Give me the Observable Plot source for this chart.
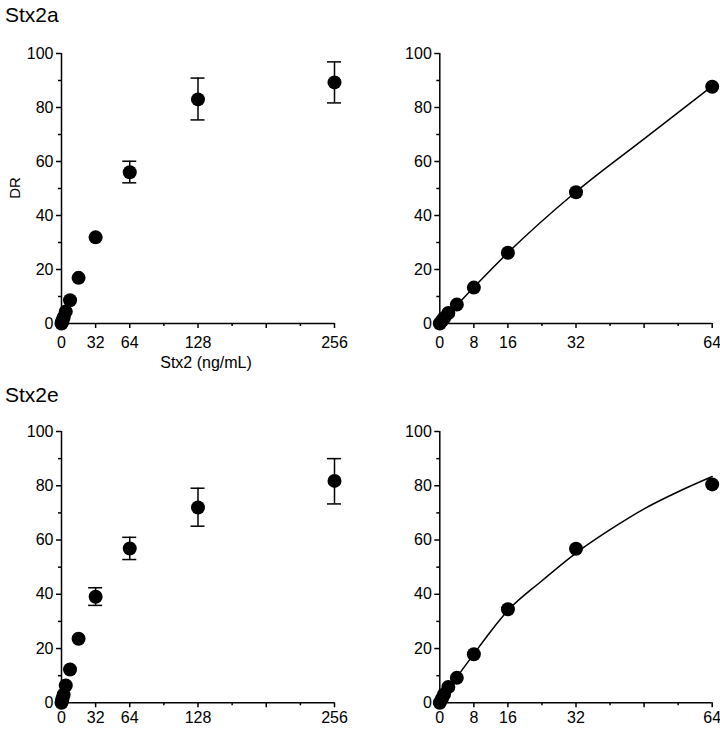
<!DOCTYPE html>
<html><head><meta charset="utf-8">
<script src="https://cdn.jsdelivr.net/npm/d3@7"></script>
<script src="https://cdn.jsdelivr.net/npm/@observablehq/plot@0.6"></script>
<style>
body{margin:0;background:#fff;}
#root{position:relative;width:720px;height:730px;font-family:"Liberation Sans",Arial,Helvetica,sans-serif;color:#000;overflow:hidden;}
#root svg{position:absolute;}
.lbl{position:absolute;white-space:nowrap;line-height:1;}
</style></head><body><div id="root"></div>
<script>
// ---- data ----
const panelTitles = ["Stx2a", "Stx2e"];
const yLabel = "DR";
const xLabel = "Stx2 (ng/mL)";

const doseFull = [0, 0.5, 1, 2, 4, 8, 16, 32, 64, 128, 256];
const doseZoom = [0, 0.5, 1, 2, 4, 8, 16, 32, 64];

const stx2aFull = [0, 0.5, 1.1, 2.2, 4.4, 8.6, 16.9, 31.9, 56.0, 83.0, 89.3];
const stx2aFullLo = [null, null, null, null, null, null, null, null, 52.1, 75.4, 81.7];
const stx2aFullHi = [null, null, null, null, null, null, null, null, 60.1, 90.9, 96.9];
const stx2aZoom = [0, 1.0, 2.0, 3.9, 7.0, 13.3, 26.2, 48.6, 87.7];
const stx2aCurveX = [0, 8, 16, 32, 48, 64];
const stx2aCurveY = [0, 13.4, 26.2, 48.8, 68.4, 87.9];

const stx2eFull = [0, 0.8, 1.6, 3.0, 6.4, 12.3, 23.6, 39.1, 56.9, 72.0, 81.8];
const stx2eFullLo = [null, null, null, null, null, null, null, 35.9, 52.8, 65.1, 73.3];
const stx2eFullHi = [null, null, null, null, null, null, null, 42.4, 61.0, 79.1, 90.0];
const stx2eZoom = [0, 1.5, 3.1, 5.8, 9.2, 17.9, 34.5, 56.8, 80.5];
const stx2eCurveX = [0, 4, 8, 12, 16, 24, 32, 40, 48, 56, 64];
const stx2eCurveY = [0, 9.4, 18.0, 26.4, 34.0, 45.0, 55.2, 63.8, 71.5, 77.8, 83.4];

const xMajorFull = [0, 32, 64, 128, 192, 256];
const xMinorFull = [96, 160, 224];
const xLabelsFull = [0, 32, 64, 128, 256];
const xMajorZoom = [0, 8, 16, 32, 48, 64];
const xMinorZoom = [24, 40, 56];
const xLabelsZoom = [0, 8, 16, 32, 64];
const yMajor = [0, 20, 40, 60, 80, 100];
const yMinor = [10, 30, 50, 70, 90];

// ---- drawing ----
const root = document.getElementById("root");

function panel(o) {
  const pts = o.doses.map((d, i) => ({x: d, y: o.values[i],
    lo: o.lo ? o.lo[i] : null, hi: o.hi ? o.hi[i] : null}));
  const errs = pts.filter(d => d.lo != null);
  const curve = o.curveX ? o.curveX.map((x, i) => ({x, y: o.curveY[i]})) : [];
  const marks = [
    Plot.ruleX(errs, {x: "x", y1: "lo", y2: "hi", strokeWidth: 1.5}),
    Plot.ruleY(errs, {y: "lo", x1: "x", x2: "x", insetLeft: -7, insetRight: -7, strokeWidth: 1.5}),
    Plot.ruleY(errs, {y: "hi", x1: "x", x2: "x", insetLeft: -7, insetRight: -7, strokeWidth: 1.5}),
    Plot.line(curve, {x: "x", y: "y", curve: "monotone-x", strokeWidth: 1.5}),
    Plot.axisX({ticks: o.xMajor, tickSize: 5, tickPadding: o.tickPadX, strokeWidth: 1.5, label: null,
      tickFormat: d => o.xLabels.includes(d) ? String(d) : ""}),
    Plot.axisX({ticks: o.xMinor, tickSize: 3, strokeWidth: 1.5, label: null, tickFormat: () => ""}),
    Plot.axisY({ticks: yMajor, tickSize: 5, tickPadding: 3, strokeWidth: 1.5, label: null, tickFormat: d => String(d)}),
    Plot.axisY({ticks: yMinor, tickSize: 3, strokeWidth: 1.5, label: null, tickFormat: () => ""}),
    Plot.ruleX([0], {strokeWidth: 1.5}),
    Plot.ruleY([0], {strokeWidth: 1.5}),
    Plot.dot(pts, {x: "x", y: "y", r: 7, fill: "black", stroke: "none"})
  ];
  const svg = Plot.plot({
    width: o.w, height: o.h,
    marginLeft: o.ml, marginRight: o.mr, marginTop: o.mt, marginBottom: o.mb,
    x: {domain: [0, o.xmax], label: null},
    y: {domain: [0, 100], label: null},
    style: {fontSize: "16px", fontFamily: '"Liberation Sans", Arial, Helvetica, sans-serif', color: "black", background: "transparent"},
    marks
  });
  svg.style.left = o.left + "px";
  svg.style.top = o.top + "px";
  root.appendChild(svg);
}

panel({left: 0, top: 0, w: 360, h: 370, ml: 61, mr: 26, mt: 53, mb: 47, xmax: 256,
  doses: doseFull, values: stx2aFull, lo: stx2aFullLo, hi: stx2aFullHi,
  xMajor: xMajorFull, xMinor: xMinorFull, xLabels: xLabelsFull, tickPadX: 8});
panel({left: 360, top: 0, w: 360, h: 370, ml: 79.3, mr: 8.3, mt: 53, mb: 47, xmax: 64,
  doses: doseZoom, values: stx2aZoom, curveX: stx2aCurveX, curveY: stx2aCurveY,
  xMajor: xMajorZoom, xMinor: xMinorZoom, xLabels: xLabelsZoom, tickPadX: 8});
panel({left: 0, top: 370, w: 360, h: 360, ml: 61, mr: 26, mt: 61, mb: 27.7, xmax: 256,
  doses: doseFull, values: stx2eFull, lo: stx2eFullLo, hi: stx2eFullHi,
  xMajor: xMajorFull, xMinor: xMinorFull, xLabels: xLabelsFull, tickPadX: 4});
panel({left: 360, top: 370, w: 360, h: 360, ml: 79.3, mr: 8.3, mt: 61, mb: 27.7, xmax: 64,
  doses: doseZoom, values: stx2eZoom, curveX: stx2eCurveX, curveY: stx2eCurveY,
  xMajor: xMajorZoom, xMinor: xMinorZoom, xLabels: xLabelsZoom, tickPadX: 4});

function label(text, css) {
  const d = document.createElement("div");
  d.className = "lbl";
  d.textContent = text;
  Object.assign(d.style, css);
  root.appendChild(d);
}
label(panelTitles[0], {left: "5px", top: "4px", fontSize: "21px"});
label(panelTitles[1], {left: "5px", top: "384px", fontSize: "21px"});
label(yLabel, {left: "14px", top: "188px", fontSize: "15px", transform: "translate(-50%,-50%) rotate(-90deg)"});
label(xLabel, {left: "206px", top: "355px", fontSize: "16px", transform: "translateX(-50%)"});
</script>
</body></html>
